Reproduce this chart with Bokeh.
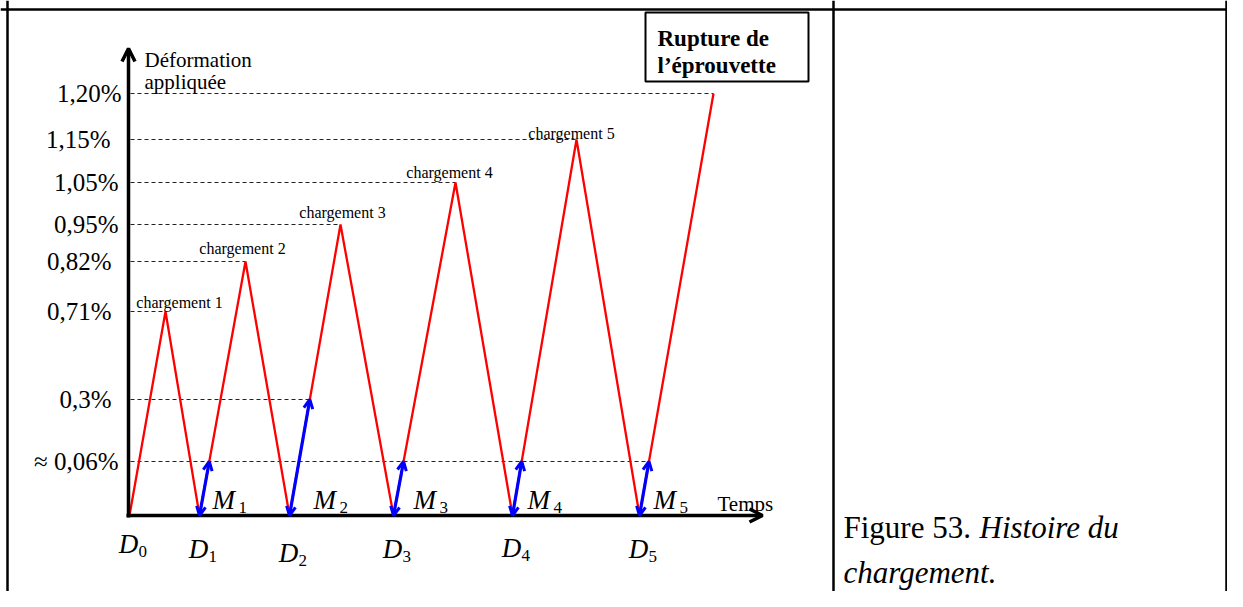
from bokeh.plotting import figure
from bokeh.models import Range1d, Span, Arrow, OpenHead, ColumnDataSource
from bokeh.core.properties import value
from bokeh.embed import file_html
from bokeh.resources import INLINE

# ---------------- data ----------------
strain_labels = ["≈ 0,06%", "0,3%", "0,71%", "0,82%", "0,95%", "1,05%", "1,15%", "1,20%"]
# schematic (non-linear) vertical position of each strain level on the drawing
level_y = [54, 116, 204, 254, 291, 333, 376, 422]
# schematic time of each unloaded point D0..D5 and of each peak
valley_t = [0, 70, 160, 264, 383, 510]
peak_t = [36, 116, 211, 326, 447, 584]
peak_level = [2, 3, 4, 5, 6, 7]          # index into strain levels
load_labels = ["chargement 1", "chargement 2", "chargement 3", "chargement 4", "chargement 5"]
measure_level = [0, 1, 0, 0, 0]          # M1..M5 level index
d_names = ["0", "1", "2", "3", "4", "5"]
m_names = ["1", "2", "3", "4", "5"]

SERIF = value("Liberation Serif")

W, H = 1227, 591
X0, Y0 = -129, 515
p = figure(width=W, height=H, output_backend="svg", toolbar_location=None,
           x_range=Range1d(X0, X0 + W), y_range=Range1d(Y0 - H, Y0),
           x_axis_location=None, y_axis_location=None, min_border=0)
p.outline_line_color = None
p.grid.visible = False
p.background_fill_color = "white"

# table borders
for loc in (-122, 704, 1097):
    p.add_layout(Span(location=loc, dimension="height", line_color="black", line_width=2.5))
p.add_layout(Span(location=506, dimension="width", line_color="black", line_width=2.5))

# measurement points on the reloading branches
peak_h = [level_y[i] for i in peak_level]
m_x, m_y = [], []
for k, li in enumerate(measure_level):
    v = valley_t[k + 1]
    pk = peak_t[k + 1]
    h = level_y[li]
    m_x.append(v + (pk - v) * h / peak_h[k + 1])
    m_y.append(h)

# dashed reference lines
dash_end = []
for i, ly in enumerate(level_y):
    if i in peak_level:
        dash_end.append(peak_t[peak_level.index(i)])
    else:
        dash_end.append(max(mx for mx, li in zip(m_x, measure_level) if li == i))
p.segment(x0=[1] * len(level_y), y0=level_y, x1=dash_end, y1=level_y,
          line_color="#222222", line_width=1, line_dash="4 3")

# red loading path
path_x, path_y = [], []
for v, pk, h in zip(valley_t, peak_t, peak_h):
    path_x += [v, pk]
    path_y += [0, h]
p.line(path_x, path_y, line_color="#FF0000", line_width=2.3)

# axes arrows
p.add_layout(Arrow(end=OpenHead(size=13, line_width=3.5, line_color="black"),
                   x_start=-1, y_start=-2, x_end=-1, y_end=467,
                   line_color="black", line_width=3.5))
p.add_layout(Arrow(end=OpenHead(size=13, line_width=3.5, line_color="black"),
                   x_start=-3, y_start=0, x_end=633, y_end=0,
                   line_color="black", line_width=3.5))

# blue measurement arrows
msrc = ColumnDataSource(dict(xs=valley_t[1:], ys=[0] * 5, xe=m_x, ye=m_y))
p.add_layout(Arrow(source=msrc, x_start="xs", y_start="ys", x_end="xe", y_end="ye",
                   start=OpenHead(size=9, line_width=3, line_color="#0000FF"),
                   end=OpenHead(size=9, line_width=3, line_color="#0000FF"),
                   line_color="#0000FF", line_width=3.2))

# strain tick labels
label_x = [-11, -18, -18, -18, -11, -11, -19, -8]
p.text(x=label_x, y=level_y, text=strain_labels, text_font=SERIF, text_font_size="25px",
       text_align="right", text_baseline="middle", text_color="black")

# chargement labels
c_dx = [14, -3, 2, -6, -5]
c_dy = [9, 13, 12, 10, 6]
p.text(x=[t + d for t, d in zip(peak_t[:5], c_dx)],
       y=[h + d for h, d in zip(peak_h[:5], c_dy)],
       text=load_labels, text_font=SERIF, text_font_size="16px",
       text_align="center", text_baseline="alphabetic", text_color="black")

# axis titles
p.text(x=[15, 15], y=[456, 434], text=["Déformation", "appliquée"], text_font=SERIF,
       text_font_size="21px", text_align="left", text_baseline="alphabetic")
p.text(x=[588], y=[12], text=["Temps"], text_font=SERIF, text_font_size="21px",
       text_align="left", text_baseline="alphabetic")

# D labels
d_dy = [-28, -33, -37, -33, -32, -33]
p.text(x=[v - 1 for v in valley_t], y=d_dy, text=["D"] * 6, text_font=SERIF,
       text_font_style="italic", text_font_size="27px", text_align="center",
       text_baseline="alphabetic")
p.text(x=[v + 9 for v in valley_t], y=[d - 8 for d in d_dy], text=d_names, text_font=SERIF,
       text_font_size="17px", text_align="left", text_baseline="alphabetic")

# M labels
m_dx = [13, 24, 20, 15, 14]
p.text(x=[v + d for v, d in zip(valley_t[1:], m_dx)], y=[16] * 5, text=["M"] * 5,
       text_font=SERIF, text_font_style="italic", text_font_size="27px",
       text_align="left", text_baseline="alphabetic")
p.text(x=[v + d + 26 for v, d in zip(valley_t[1:], m_dx)], y=[8] * 5, text=m_names,
       text_font=SERIF, text_font_size="17px", text_align="left", text_baseline="alphabetic")

# rupture box
p.quad(left=[516], right=[679], bottom=[434], top=[503], fill_color="white",
       line_color="black", line_width=2)
p.text(x=[528, 528], y=[477, 450], text=["Rupture de", "l\u2019éprouvette"], text_font=SERIF,
       text_font_style="bold", text_font_size="23px", text_align="left",
       text_baseline="alphabetic")

# caption
p.text(x=[714], y=[-12], text=["Figure 53."], text_font=SERIF, text_font_size="31px",
       text_align="left", text_baseline="alphabetic")
p.text(x=[850, 714], y=[-12, -57], text=["Histoire du", "chargement."], text_font=SERIF,
       text_font_style="italic", text_font_size="31px", text_align="left",
       text_baseline="alphabetic")

open("out.html", "w").write(file_html(p, INLINE))
